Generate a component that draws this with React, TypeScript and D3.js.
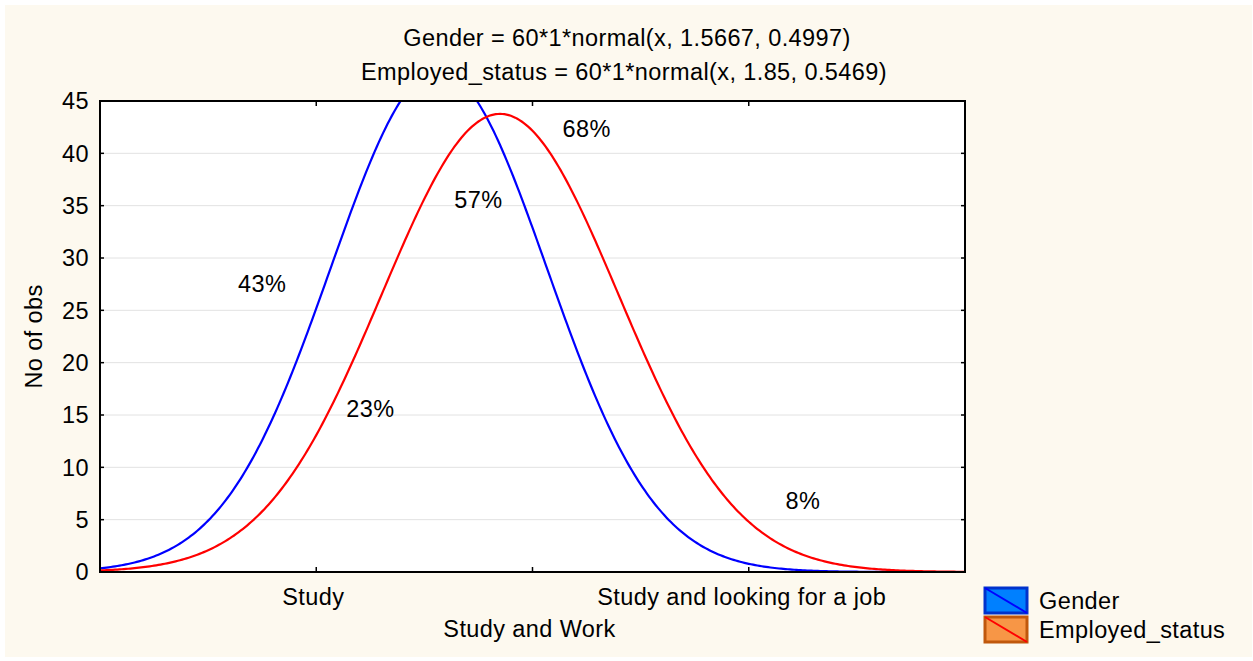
import React, { useEffect, useRef } from 'react';
import * as d3 from 'd3';

// category labels on the x axis (positions 1..3)
const categories = ['Study', 'Study and Work', 'Study and looking for a job'];
const categoryPos = [1, 2, 3];

// fitted normal curves, parameters from the chart title
const seriesNames = ['Gender', 'Employed_status'];
const seriesN = [60, 60];
const seriesMean = [1.5667, 1.85];
const seriesSd = [0.4997, 0.5469];
const seriesColors = ['#0000ff', '#ff0000'];
const legendFill = ['#0080ff', '#f79646'];
const legendStroke = ['#0033cc', '#c0580c'];

const yTicks = [0, 5, 10, 15, 20, 25, 30, 35, 40, 45];

// percent annotations (data coordinates)
const noteText = ['43%', '23%', '57%', '68%', '8%'];
const noteX = [0.75, 1.25, 1.75, 2.25, 3.25];
const noteY = [27.6, 15.6, 35.6, 42.4, 6.8];

const W = 1253;
const H = 661;
const FONT = '"Liberation Sans", Arial, sans-serif';

const App: React.FC = () => {
  const svgRef = useRef<SVGSVGElement>(null);

  useEffect(() => {
    if (!svgRef.current) return;
    const svg = d3.select(svgRef.current);
    svg.selectAll('*').remove();

    const left = 100, top = 101, right = 965, bottom = 572;
    const x = d3.scaleLinear().domain([0, 4]).range([left, right]);
    const y = d3.scaleLinear().domain([0, 45]).range([bottom, top]);

    svg.append('rect').attr('width', W).attr('height', H).attr('fill', '#fff');
    svg.append('rect').attr('x', 5).attr('y', 5).attr('width', W - 6).attr('height', H - 9).attr('fill', '#fdf9ef');
    svg.append('rect').attr('x', left).attr('y', top).attr('width', right - left).attr('height', bottom - top).attr('fill', '#fff');

    // grid
    svg.append('g').selectAll('line').data(yTicks.slice(1, -1)).enter().append('line')
      .attr('x1', left).attr('x2', right).attr('y1', d => y(d)).attr('y2', d => y(d))
      .attr('stroke', '#e2e2e2').attr('stroke-width', 1);

    svg.append('clipPath').attr('id', 'plotclip').append('rect')
      .attr('x', left).attr('y', top).attr('width', right - left).attr('height', bottom - top);

    const xs = d3.range(0, 4.0001, 0.01);
    const line = d3.line<number>().x(d => x(d));
    seriesNames.forEach((_, i) => {
      const f = (v: number) => seriesN[i] * Math.exp(-0.5 * ((v - seriesMean[i]) / seriesSd[i]) ** 2) / (seriesSd[i] * Math.sqrt(2 * Math.PI));
      svg.append('path')
        .attr('d', line.y(d => y(f(d)))(xs))
        .attr('fill', 'none').attr('stroke', seriesColors[i]).attr('stroke-width', 2.2)
        .attr('clip-path', 'url(#plotclip)');
    });

    // frame and inward ticks
    svg.append('rect').attr('x', left).attr('y', top).attr('width', right - left).attr('height', bottom - top)
      .attr('fill', 'none').attr('stroke', '#000').attr('stroke-width', 2);
    const tk = svg.append('g').attr('stroke', '#000').attr('stroke-width', 1.5);
    yTicks.forEach(t => {
      tk.append('line').attr('x1', left).attr('x2', left + 4).attr('y1', y(t)).attr('y2', y(t));
      tk.append('line').attr('x1', right - 4).attr('x2', right).attr('y1', y(t)).attr('y2', y(t));
    });
    categoryPos.forEach(p => {
      tk.append('line').attr('x1', x(p)).attr('x2', x(p)).attr('y1', bottom).attr('y2', bottom - 5);
      tk.append('line').attr('x1', x(p)).attr('x2', x(p)).attr('y1', top).attr('y2', top + 5);
    });

    const txt = svg.append('g').attr('font-family', FONT).attr('font-size', 23.5)
      .attr('letter-spacing', 0.4).attr('fill', '#000');
    yTicks.forEach(t => {
      txt.append('text').attr('x', left - 11).attr('y', y(t)).attr('dy', '0.36em')
        .attr('text-anchor', 'end').text(t);
    });
    categories.forEach((c, i) => {
      txt.append('text').attr('x', x(categoryPos[i]) - (i === 2 ? 7 : 3)).attr('y', i === 1 ? 637 : 605)
        .attr('text-anchor', 'middle').text(c);
    });
    txt.append('text').attr('transform', `translate(42,${(top + bottom) / 2}) rotate(-90)`)
      .attr('text-anchor', 'middle').text('No of obs');

    txt.append('text').attr('x', 627).attr('y', 46).attr('text-anchor', 'middle')
      .text(`Gender = 60*1*normal(x, 1.5667, 0.4997)`);
    txt.append('text').attr('x', 624).attr('y', 80).attr('text-anchor', 'middle')
      .text(`Employed_status = 60*1*normal(x, 1.85, 0.5469)`);

    noteText.forEach((n, i) => {
      txt.append('text').attr('x', x(noteX[i])).attr('y', y(noteY[i])).attr('dy', '0.36em')
        .attr('text-anchor', 'middle').text(n);
    });

    // legend
    seriesNames.forEach((s, i) => {
      const ly = 588 + i * 29;
      svg.append('rect').attr('x', 985).attr('y', ly).attr('width', 42).attr('height', 25)
        .attr('fill', legendFill[i]).attr('stroke', legendStroke[i]).attr('stroke-width', 3);
      svg.append('line').attr('x1', 985).attr('y1', ly).attr('x2', 1027).attr('y2', ly + 25)
        .attr('stroke', seriesColors[i]).attr('stroke-width', 2);
      txt.append('text').attr('x', 1039).attr('y', ly + 21).text(s);
    });
  }, []);

  return <svg ref={svgRef} width={W} height={H} style={{ display: 'block', position: 'absolute', left: 0, top: 0 }} />;
};

export default App;
